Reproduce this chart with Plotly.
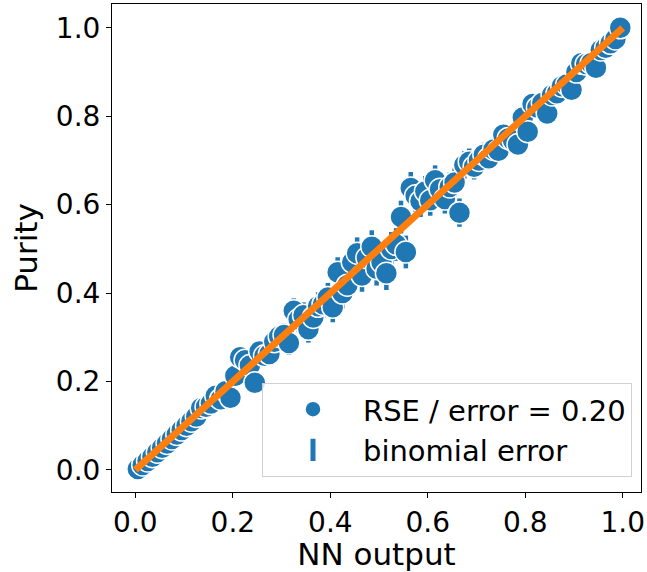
import plotly.graph_objects as go

# NN output bin centres
nn_output = [0.005, 0.015, 0.025, 0.035, 0.045, 0.055, 0.065, 0.075, 0.085, 0.095,
             0.105, 0.115, 0.125, 0.135, 0.145, 0.155, 0.165, 0.175, 0.185, 0.195,
             0.205, 0.215, 0.225, 0.235, 0.245, 0.255, 0.265, 0.275, 0.285, 0.295,
             0.305, 0.315, 0.325, 0.335, 0.345, 0.355, 0.365, 0.375, 0.385, 0.395,
             0.405, 0.415, 0.425, 0.435, 0.445, 0.455, 0.465, 0.475, 0.485, 0.495,
             0.505, 0.515, 0.525, 0.535, 0.545, 0.555, 0.565, 0.575, 0.585, 0.595,
             0.605, 0.615, 0.625, 0.635, 0.645, 0.655, 0.665, 0.675, 0.685, 0.695,
             0.705, 0.715, 0.725, 0.735, 0.745, 0.755, 0.765, 0.775, 0.785, 0.795,
             0.805, 0.815, 0.825, 0.835, 0.845, 0.855, 0.865, 0.875, 0.885, 0.895,
             0.905, 0.915, 0.925, 0.935, 0.945, 0.955, 0.965, 0.975, 0.985, 0.995]

# measured purity per bin
purity = [0.002, 0.011, 0.020, 0.030, 0.040, 0.050, 0.060, 0.070, 0.080, 0.090,
          0.100, 0.110, 0.121, 0.140, 0.143, 0.150, 0.168, 0.160, 0.178, 0.163,
          0.213, 0.255, 0.248, 0.236, 0.197, 0.268, 0.258, 0.262, 0.290, 0.302,
          0.305, 0.287, 0.360, 0.340, 0.350, 0.318, 0.345, 0.370, 0.375, 0.390,
          0.368, 0.447, 0.400, 0.418, 0.470, 0.490, 0.440, 0.480, 0.505, 0.455,
          0.470, 0.445, 0.500, 0.510, 0.572, 0.493, 0.638, 0.620, 0.608, 0.630,
          0.610, 0.655, 0.635, 0.613, 0.640, 0.650, 0.582, 0.690, 0.697, 0.686,
          0.700, 0.713, 0.705, 0.725, 0.722, 0.758, 0.750, 0.745, 0.736, 0.797,
          0.765, 0.828, 0.820, 0.830, 0.806, 0.848, 0.852, 0.868, 0.872, 0.860,
          0.900, 0.920, 0.918, 0.920, 0.910, 0.950, 0.955, 0.965, 0.975, 1.000]

# binomial error per bin
binomial_error = [0.003, 0.004, 0.005, 0.005, 0.006, 0.006, 0.007, 0.007, 0.008, 0.008,
                  0.009, 0.009, 0.010, 0.011, 0.012, 0.013, 0.014, 0.014, 0.015, 0.016,
                  0.017, 0.018, 0.019, 0.020, 0.020, 0.021, 0.022, 0.023, 0.024, 0.025,
                  0.026, 0.027, 0.028, 0.028, 0.029, 0.030, 0.031, 0.032, 0.032, 0.033,
                  0.034, 0.034, 0.035, 0.035, 0.036, 0.036, 0.037, 0.037, 0.037, 0.038,
                  0.038, 0.038, 0.038, 0.037, 0.037, 0.037, 0.036, 0.036, 0.036, 0.035,
                  0.035, 0.034, 0.034, 0.033, 0.033, 0.032, 0.032, 0.031, 0.030, 0.029,
                  0.028, 0.027, 0.026, 0.025, 0.024, 0.023, 0.022, 0.021, 0.020, 0.019,
                  0.018, 0.017, 0.016, 0.015, 0.014, 0.013, 0.012, 0.012, 0.011, 0.010,
                  0.009, 0.009, 0.008, 0.007, 0.007, 0.006, 0.005, 0.005, 0.004, 0.003]

diagonal = [0.0, 1.0]

x_ticks = [0.0, 0.2, 0.4, 0.6, 0.8, 1.0]
y_ticks = [0.0, 0.2, 0.4, 0.6, 0.8, 1.0]
tick_text = ["0.0", "0.2", "0.4", "0.6", "0.8", "1.0"]

BLUE = "#1f77b4"
ORANGE = "#ff7f0e"
FONT = "DejaVu Sans"

fig = go.Figure()

fig.add_trace(go.Scatter(
    x=nn_output, y=purity, mode="markers",
    name="RSE / error = 0.20",
    marker=dict(color=BLUE, size=22, line=dict(color="white", width=1.5)),
    error_y=dict(type="data", array=binomial_error, visible=True,
                 color=BLUE, thickness=4.5, width=0),
))

# legend entry for the error bars
fig.add_trace(go.Scatter(
    x=[None], y=[None], mode="markers", name="binomial error",
    marker=dict(symbol="line-ns", size=16, color=BLUE,
                line=dict(color=BLUE, width=5)),
))

fig.add_trace(go.Scatter(
    x=diagonal, y=diagonal, mode="lines", showlegend=False,
    line=dict(color=ORANGE, width=7),
))

axis_common = dict(
    showgrid=False, zeroline=False, showline=True, mirror=True,
    linecolor="black", linewidth=1.1, automargin=False,
    ticks="outside", ticklen=5, tickwidth=1.1, tickcolor="black",
    tickfont=dict(family=FONT, size=28, color="black"),
    tickvals=x_ticks, ticktext=tick_text,
)

fig.update_layout(
    width=647, height=572,
    margin=dict(l=112, r=6, t=4, b=80),
    plot_bgcolor="white", paper_bgcolor="white",
    font=dict(family=FONT, color="black"),
    xaxis=dict(range=[-0.048, 1.0375],
               title=dict(text="NN output", font=dict(family=FONT, size=31), standoff=2),
               **axis_common),
    yaxis=dict(range=[-0.050, 1.054],
               title=dict(text="Purity", font=dict(family=FONT, size=31), standoff=8),
               **axis_common),
    legend=dict(
        x=0.983, y=0.031, xanchor="right", yanchor="bottom",
        bgcolor="rgba(255,255,255,0.8)", bordercolor="#d0d0d0", borderwidth=1,
        font=dict(family=FONT, size=29, color="black"),
        itemwidth=90, tracegroupgap=0,
    ),
    showlegend=True,
)

fig.write_html("out.html", config={"displayModeBar": False},
               post_script="document.body.style.margin='0';document.body.style.overflow='hidden';")
